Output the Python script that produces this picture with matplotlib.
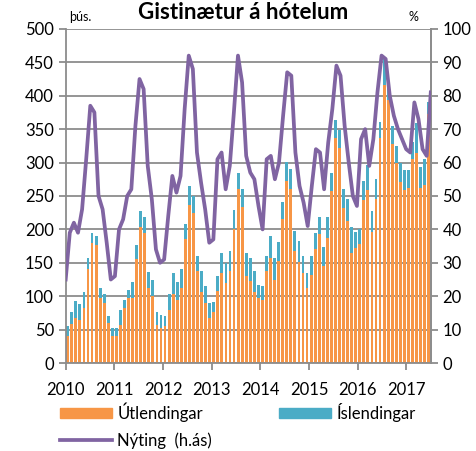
import numpy as np
import matplotlib
matplotlib.use('Agg')
import matplotlib.pyplot as plt
from matplotlib.patches import Patch
from matplotlib.lines import Line2D

plt.rcParams['font.family'] = ['Lato', 'DejaVu Sans']

# Mánaðarleg gögn jan 2010 - jún 2017 (þús. gistinátta)
ar = ['2010', '2011', '2012', '2013', '2014', '2015', '2016', '2017']

samtals = [55, 76, 93, 88, 107, 157, 195, 190, 112, 104, 70, 52,
           52, 80, 95, 110, 121, 177, 228, 219, 136, 124, 77, 72,
           70, 103, 135, 121, 140, 208, 265, 250, 160, 137, 115, 90,
           92, 130, 165, 150, 168, 229, 284, 261, 165, 157, 137, 117,
           116, 160, 190, 157, 181, 241, 301, 290, 198, 183, 160, 135,
           160, 195, 219, 174, 219, 284, 363, 348, 261, 245, 204, 196,
           200, 272, 296, 228, 275, 361, 455, 419, 355, 324, 299, 289,
           289, 330, 359, 294, 305, 390]

utlendingar = [40, 58, 67, 64, 82, 140, 180, 177, 97, 90, 60, 40,
               40, 57, 82, 97, 97, 155, 204, 194, 113, 101, 57, 53,
               55, 80, 103, 95, 112, 185, 237, 225, 137, 107, 90, 67,
               77, 108, 135, 120, 138, 200, 260, 233, 130, 123, 107, 97,
               95, 137, 157, 125, 152, 215, 273, 261, 167, 151, 135, 112,
               132, 170, 193, 145, 187, 257, 337, 322, 232, 212, 165, 172,
               178, 244, 259, 196, 246, 336, 416, 394, 328, 299, 271, 259,
               262, 305, 314, 262, 267, 372]

islendingar = [s - u for s, u in zip(samtals, utlendingar)]

# Nýting herbergja (%)
nyting = [25, 39, 42, 39, 46, 61, 77, 75, 50, 46, 36, 25,
          26, 40, 43, 50, 52, 71, 85, 82, 59, 49, 34, 30,
          31, 44, 56, 51, 56, 76, 92, 88, 63, 54, 46, 36,
          37, 61, 63, 52, 59, 75, 92, 84, 62, 57, 55, 47,
          40, 61, 62, 55, 60, 74, 87, 86, 63, 53, 48, 41,
          53, 64, 63, 52, 66, 76, 89, 86, 71, 60, 50, 47,
          67, 70, 59, 67, 81, 92, 91, 80, 74, 70, 67, 64,
          63, 78, 73, 64, 62, 81]

ORANGE = '#F79646'
TEAL = '#4BACC6'
PURPLE = '#8064A2'
GRID = '#8C8C8C'
FS = 12

n = len(samtals)
x = np.arange(n) + 0.5

fig = plt.figure(figsize=(4.76, 4.51), dpi=100)
ax = fig.add_axes([0.138, 0.195, 0.767, 0.741])

ax.bar(x, utlendingar, width=0.7, color=ORANGE, linewidth=0, zorder=2)
ax.bar(x, islendingar, width=0.7, bottom=utlendingar, color=TEAL,
       linewidth=0, zorder=2)

ax.set_xlim(0, n)
ax.set_ylim(0, 500)
ax.set_yticks(range(0, 501, 50))
ax.set_xticks(range(0, n, 12))
ax.set_xticklabels(ar)
ax.grid(axis='y', color=GRID, linewidth=1.3, zorder=0)
ax.set_axisbelow(True)

for s in ['left', 'right', 'bottom']:
    ax.spines[s].set_color(GRID)
    ax.spines[s].set_linewidth(1.3)
ax.spines['top'].set_visible(False)
ax.tick_params(axis='both', colors=GRID, labelcolor='black', labelsize=FS,
               length=5, width=1.3, direction='out')
ax.tick_params(axis='x', pad=9)

# Nýting á hægri ás, línan nær frá vinstri brún til hægri
ax2 = ax.twinx()
xl = np.linspace(0, n, n)
ax2.plot(xl, nyting, color=PURPLE, linewidth=2.7, zorder=3,
         solid_joinstyle='round')
ax2.set_ylim(0, 100)
ax2.set_yticks(range(0, 101, 10))
ax2.spines['top'].set_visible(False)
ax2.spines['right'].set_color(GRID)
ax2.spines['right'].set_linewidth(1.3)
ax2.spines['left'].set_visible(False)
ax2.spines['bottom'].set_visible(False)
ax2.tick_params(axis='y', colors=GRID, labelcolor='black', labelsize=FS,
                length=5, width=1.3, direction='out')

fig.text(0.51, 1 - 19 / 451, 'Gistinætur á hótelum', ha='center',
         va='baseline', fontsize=16, fontweight='bold')
fig.text(0.145, 0.963, 'þús.', ha='left', va='center', fontsize=9)
fig.text(0.868, 0.963, '%', ha='center', va='center', fontsize=9)

handles = [Patch(color=ORANGE, label='Útlendingar'),
           Line2D([], [], color=PURPLE, linewidth=2.7, label='Nýting  (h.ás)'),
           Patch(color=TEAL, label='Íslendingar')]
fig.legend(handles=handles, ncol=2, loc='upper left',
           bbox_to_anchor=(0.112, 0.122), frameon=False, fontsize=FS,
           handlelength=3.1, handleheight=0.55, handletextpad=0.35,
           columnspacing=4.0, labelspacing=0.6, borderaxespad=0)

fig.savefig('out.png', dpi=100)
plt.close(fig)
